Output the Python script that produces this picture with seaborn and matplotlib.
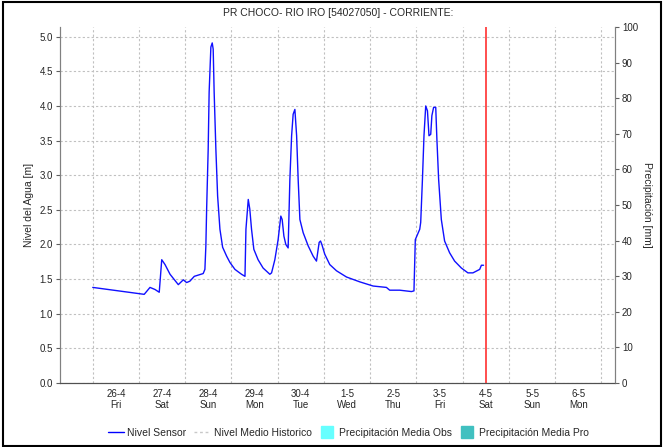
import numpy as np
import pandas as pd
import matplotlib
matplotlib.use("Agg")
import matplotlib.pyplot as plt
from matplotlib.lines import Line2D
from matplotlib.patches import Rectangle
import seaborn as sns

# Sensor level (hours since 26-4 00:00, metres)
hours = [0, 26.7, 29.7, 32.3, 34.5, 35.8, 37.5, 40.1, 44.4, 47.0, 48.7, 50.4, 52.7,
         57.3, 58.2, 58.7, 59.1, 59.9, 60.4, 61.3, 62.0, 62.5, 63.0, 63.9, 64.8,
         66.0, 67.4, 69.5, 71.2, 73.8, 77.2, 79.0, 79.5, 80.7, 81.5, 82.4, 83.6,
         85.8, 88.4, 91.9, 92.8, 94.5, 96.2, 97.6, 98.3, 99.2, 100.2, 101.4, 102.3,
         103.2, 104.0, 104.9, 105.8, 106.6, 107.5, 109.2, 111.8, 114.4, 116.1,
         117.5, 118.2, 118.9, 120.4, 123.0, 126.5, 131.7, 138.6, 145.5, 152.4,
         154.1, 159.3, 165.4, 166.7, 167.4, 169.7, 170.2, 171.1, 171.9, 172.8,
         173.7, 174.5, 175.4, 176.0, 176.9, 178.0, 178.6, 179.5, 180.9, 182.6,
         185.2, 187.8, 191.3, 194.7, 197.3, 200.8, 201.7, 202.8]
nivel = [1.38, 1.28, 1.38, 1.35, 1.31, 1.78, 1.71, 1.57, 1.42, 1.49, 1.45, 1.47, 1.54,
         1.58, 1.64, 1.98, 2.51, 3.37, 4.20, 4.85, 4.91, 4.82, 4.20, 3.37, 2.70,
         2.22, 1.96, 1.83, 1.74, 1.64, 1.57, 1.54, 2.22, 2.65, 2.51, 2.22, 1.93,
         1.78, 1.66, 1.57, 1.59, 1.78, 2.07, 2.41, 2.36, 2.12, 2.00, 1.95, 2.94,
         3.57, 3.88, 3.95, 3.57, 2.94, 2.36, 2.17, 1.98, 1.83, 1.76,
         2.03, 2.05, 2.00, 1.86, 1.71, 1.62, 1.53, 1.46, 1.40, 1.38,
         1.34, 1.34, 1.32, 1.33, 2.07, 2.22, 2.32, 2.94, 3.57, 4.00,
         3.93, 3.57, 3.59, 3.86, 3.98, 3.98, 3.52, 2.94, 2.36, 2.05,
         1.88, 1.76, 1.66, 1.59, 1.59, 1.64, 1.70, 1.70]

day_labels = ["26-4\nFri", "27-4\nSat", "28-4\nSun", "29-4\nMon", "30-4\nTue", "1-5\nWed",
              "2-5\nThu", "3-5\nFri", "4-5\nSat", "5-5\nSun", "6-5\nMon"]
nivel_ticks = [0.0, 0.5, 1.0, 1.5, 2.0, 2.5, 3.0, 3.5, 4.0, 4.5, 5.0]
precip_ticks = [0, 10, 20, 30, 40, 50, 60, 70, 80, 90, 100]

start = pd.Timestamp("2024-04-26 00:00")
now = pd.Timestamp("2024-05-04 12:15")
df = pd.DataFrame({"fecha": start + pd.to_timedelta(hours, unit="h"), "nivel": nivel})

sns.set_style("white")
plt.rcParams["font.family"] = ["Liberation Sans", "DejaVu Sans"]

fig = plt.figure(figsize=(6.63, 4.47), dpi=100)
ax = fig.add_axes([0.0905, 0.1432, 0.837, 0.7964])
ax2 = ax.twinx()

sns.lineplot(data=df, x="fecha", y="nivel", ax=ax, color="#1010ff", lw=1.0)
ax.axvline(now, color="#ff3030", lw=1.2, zorder=5)

ax.set_xlim(pd.Timestamp("2024-04-25 07:00"), pd.Timestamp("2024-05-07 07:00"))
ax.set_ylim(0, 5.14)
ax2.set_ylim(0, 100)

# gridlines at midnight, labels at noon
midnights = pd.date_range("2024-04-26", "2024-05-07", freq="D")
noons = pd.date_range("2024-04-26 12:00", periods=len(day_labels), freq="D")
ax.set_xticks(midnights)
ax.set_xticklabels([])
ax.set_xticks(noons, minor=True)
ax.set_xticklabels(day_labels, minor=True, fontsize=7)
ax.tick_params(axis="x", which="both", length=0, pad=4)

ax.set_yticks(nivel_ticks)
ax.set_yticklabels([f"{v:.1f}" for v in nivel_ticks], fontsize=7)
ax.tick_params(axis="y", left=True, length=3, width=0.8, color="#606060", pad=2)
ax2.set_yticks(precip_ticks)
ax2.set_yticklabels([str(v) for v in precip_ticks], fontsize=7)
ax2.tick_params(axis="y", right=True, length=3, width=0.8, color="#606060", pad=2)

ax.grid(True, which="major", color="#c0c0c0", linestyle=(0, (2, 2)), lw=0.8)
ax2.grid(False)

for a in (ax, ax2):
    a.spines["top"].set_visible(False)
    a.spines["left"].set_color("#808080")
    a.spines["right"].set_color("#808080")
    a.spines["bottom"].set_color("#505050")
    a.spines["bottom"].set_linestyle((0, (1, 1)))

ax.set_xlabel("")
ax.set_ylabel("Nivel del Agua [m]", fontsize=7.5, labelpad=4)
ax2.set_ylabel("Precipitación [mm]", fontsize=7.5, rotation=-90, labelpad=10)

fig.text(0.51, 0.971, "PR CHOCO- RIO IRO [54027050] - CORRIENTE:", ha="center", va="center",
         fontsize=7.5)

handles = [Line2D([], [], color="#0000ff", lw=1.0),
           Line2D([], [], color="#c8c8c8", lw=1.0, linestyle=(0, (2, 2))),
           Line2D([], [], color="#66ffff", marker="s", markersize=8, linestyle="none"),
           Line2D([], [], color="#40c0c0", marker="s", markersize=8, linestyle="none")]
labels = ["Nivel Sensor", "Nivel Medio Historico", "Precipitación Media Obs",
          "Precipitación Media Pro"]
leg = fig.legend(handles, labels, loc="center", bbox_to_anchor=(0.525, 0.031), ncol=4,
                 frameon=False, fontsize=7.5, handlelength=1.6, handletextpad=0.3,
                 columnspacing=0.7)

fig.add_artist(Rectangle((0.004, 0.003), 0.993, 0.993, transform=fig.transFigure,
                         fill=False, edgecolor="black", lw=1.5))

fig.savefig("out.png", dpi=100)
